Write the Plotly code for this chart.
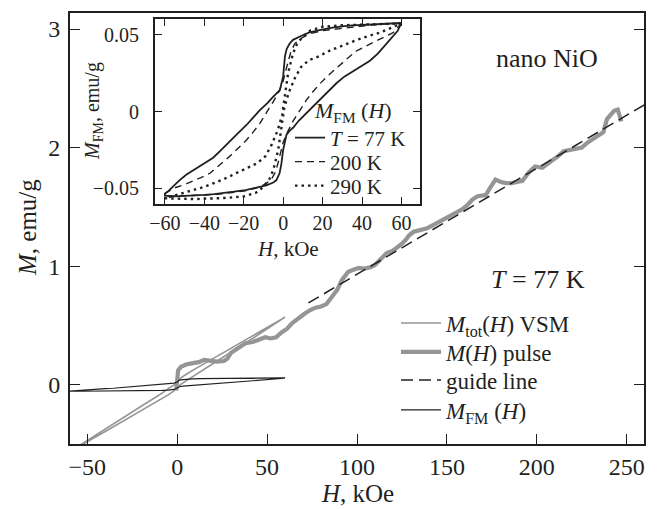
import plotly.graph_objects as go

# ---------------- data ----------------
# Inset: M_FM(H) loops (kOe, emu/g) — descending branch then ascending branch
H77 = [60, 50, 40, 35, 30, 25, 19, 13, 8.5, 5, 3.4, 1.8, 0.9, 0, -1.7, -3.2, -5, -8, -11.8, -15, -18.6, -23, -27, -31, -35.5, -40, -45.7, -49, -52.5, -55.8, -58, -60,
       -60, -55, -50, -45, -40, -35, -30, -25, -19, -13, -8.5, -5, -3.4, -1.8, -0.9, 0, 1.7, 3.2, 5, 8, 11.8, 15, 18.6, 23, 27, 31, 35.5, 40, 44, 48, 52.5, 55.8, 58, 60]
M77 = [0.0578, 0.0574, 0.0567, 0.0563, 0.0556, 0.0548, 0.0533, 0.0515, 0.049, 0.0468, 0.0446, 0.041, 0.036, 0.023, 0.014, 0.0118, 0.0098, 0.0055, 0.001, -0.0035, -0.0087, -0.0142, -0.0196, -0.0245, -0.030, -0.0335, -0.038, -0.041, -0.0446, -0.049, -0.0515, -0.0535,
       -0.0548, -0.0552, -0.0550, -0.0546, -0.0542, -0.0537, -0.0531, -0.0522, -0.0511, -0.0495, -0.048, -0.0462, -0.0446, -0.040, -0.034, -0.025, -0.015, -0.0125, -0.0105, -0.0058, -0.001, 0.003, 0.0078, 0.0132, 0.0185, 0.0228, 0.0265, 0.030, 0.0332, 0.0378, 0.0446, 0.049, 0.0525, 0.0578]

H200 = [60, 50, 40, 30, 20, 14, 9.3, 6, 4.2, 2.8, 1.7, 0, -2, -3.4, -5, -7, -9, -11.8, -15, -18.6, -23, -27, -32, -37, -42, -46.5, -51, -55.8, -60,
        -60, -50, -40, -30, -20, -14, -9.3, -6, -4.2, -2.8, -1.7, 0, 2, 3.4, 5, 7, 9, 11.8, 15, 18.6, 23, 27, 32, 37, 42, 46.5, 51, 55.8, 60]
M200 = [0.0576, 0.0570, 0.0558, 0.0545, 0.0528, 0.0510, 0.048, 0.0445, 0.040, 0.034, 0.029, 0.020, 0.0135, 0.0098, 0.0065, 0.0025, -0.0015, -0.0076, -0.0130, -0.0185, -0.0240, -0.029, -0.0345, -0.040, -0.0432, -0.0457, -0.048, -0.050, -0.0535,
        -0.0552, -0.0550, -0.0544, -0.0534, -0.0518, -0.0500, -0.0475, -0.0442, -0.040, -0.0345, -0.029, -0.020, -0.0138, -0.0098, -0.0062, -0.0022, 0.0018, 0.0076, 0.0128, 0.0182, 0.0238, 0.0285, 0.034, 0.0395, 0.043, 0.0457, 0.0485, 0.0515, 0.0576]

H290 = [60, 45, 30, 20, 14, 10, 7, 5, 3.5, 2.5, 1.5, 0.5, -0.5, -2, -3.5, -6, -9, -13, -18, -24, -31, -40, -49, -56, -60,
        -60, -45, -30, -20, -14, -10, -7, -5, -3.5, -2.5, -1.5, -0.5, 0.5, 2, 3.5, 6, 9, 13, 18, 24, 31, 40, 49, 56, 60]
M290 = [0.0575, 0.0570, 0.0563, 0.0553, 0.053, 0.049, 0.044, 0.038, 0.031, 0.025, 0.016, 0.006, -0.002, -0.009, -0.0145, -0.022, -0.029, -0.0335, -0.0365, -0.0405, -0.0445, -0.049, -0.0525, -0.0552, -0.0565,
        -0.0565, -0.0570, -0.0563, -0.0553, -0.053, -0.049, -0.044, -0.038, -0.031, -0.025, -0.016, -0.006, 0.002, 0.009, 0.0145, 0.022, 0.029, 0.0335, 0.036, 0.040, 0.0435, 0.048, 0.0515, 0.055, 0.0575]

# Main: M_tot(H) VSM loop
H_vsm = [60, 40, 20, 10, 5, 2, 0, -2, -5, -10, -20, -40, -60,
         -60, -40, -20, -10, -5, -2, 0, 2, 5, 10, 20, 40, 60]
M_vsm = [0.570, 0.398, 0.224, 0.134, 0.088, 0.055, 0.023, -0.005, -0.033, -0.087, -0.182, -0.376, -0.565,
         -0.567, -0.395, -0.222, -0.133, -0.086, -0.055, -0.028, 0.003, 0.032, 0.082, 0.179, 0.371, 0.570]

# Main: M(H) pulse
H_pulse = [-0.5, 0, 0.5, 2, 5, 8, 12, 15, 18, 22, 26, 28, 30, 34, 38, 42, 46, 49, 52, 55, 58, 61, 64, 68, 71, 74, 77, 80, 83,
           86, 89, 91.5, 95, 98, 101, 104, 107.5, 110, 112, 114, 116.5, 120, 123, 125, 127, 129, 131.5, 134, 137, 139, 141.5,
           144, 147, 150, 152.6, 155, 158, 161, 164, 167, 171.6, 174, 177, 180, 183, 186, 189, 192, 195.5, 199, 203, 206, 209,
           212, 215, 219, 222, 225, 228, 231, 234, 237, 239, 241, 243, 245, 246, 247]
M_pulse = [-0.05, 0.04, 0.12, 0.15, 0.17, 0.18, 0.19, 0.21, 0.20, 0.195, 0.20, 0.22, 0.27, 0.31, 0.35, 0.36, 0.38, 0.40, 0.39, 0.40, 0.44, 0.47, 0.52, 0.57, 0.60, 0.63, 0.65, 0.66, 0.68,
           0.74, 0.80, 0.88, 0.95, 0.97, 0.985, 0.98, 0.99, 1.01, 1.04, 1.08, 1.11, 1.13, 1.16, 1.19, 1.22, 1.26, 1.29, 1.30, 1.31, 1.32, 1.34,
           1.36, 1.39, 1.41, 1.43, 1.45, 1.475, 1.51, 1.56, 1.59, 1.60, 1.66, 1.73, 1.71, 1.70, 1.70, 1.71, 1.72, 1.79, 1.84, 1.83, 1.86, 1.89,
           1.93, 1.97, 1.98, 1.99, 2.00, 2.04, 2.07, 2.10, 2.13, 2.24, 2.28, 2.31, 2.32, 2.27, 2.22]

# Main: guide line end points
H_guide = [73, 262]
M_guide = [0.69, 2.38]

main_xticks = [-50, 0, 50, 100, 150, 200, 250]
main_yticks = [0, 1, 2, 3]
inset_xticks = [-60, -40, -20, 0, 20, 40, 60]
inset_yticks = [-0.05, 0, 0.05]
inset_yticktext = ["\u22120.05", "0", "0.05"]

# ---------------- figure ----------------
FONT = "Liberation Serif"
INK = "#231f20"
GREY = "#959595"

# the page body has an 8 px margin; the figure is sized/placed so that the
# plot lands where the reference has it
OFF = 8
W, HGT = 661 - OFF, 509 - OFF
pw, ph = 574, 431
L, T = 70 - OFF, 13 - OFF
R, B = W - L - pw, HGT - T - ph


def px(p):  # reference pixel -> paper x
    return (p - 70) / pw


def py(p):  # reference pixel -> paper y
    return (444 - p) / ph


fig = go.Figure()

# main plot traces (each legend entry in its own legend box so rows sit exactly)
fig.add_trace(go.Scatter(x=H_vsm, y=M_vsm, mode="lines", line=dict(color=GREY, width=1.6),
                         name="<i>M</i><sub>tot</sub>(<i>H</i>) VSM", legend="legend2"))
fig.add_trace(go.Scatter(x=H_pulse, y=M_pulse, mode="lines", line=dict(color=GREY, width=4.2),
                         name="<i>M</i>(<i>H</i>) pulse", legend="legend3"))
fig.add_trace(go.Scatter(x=H_guide, y=M_guide, mode="lines", line=dict(color=INK, width=1.5, dash="12px,6px"),
                         name="guide line", legend="legend4"))
fig.add_trace(go.Scatter(x=H77, y=M77, mode="lines", line=dict(color=INK, width=1.2),
                         name="<i>M</i><sub>FM</sub> (<i>H</i>)", legend="legend5"))

# inset traces
fig.add_trace(go.Scatter(x=H77, y=M77, mode="lines", line=dict(color=INK, width=1.8),
                         name="<i>T</i> = 77 K", xaxis="x2", yaxis="y2", legend="legend6"))
fig.add_trace(go.Scatter(x=H200, y=M200, mode="lines", line=dict(color=INK, width=1.4, dash="7px,5px"),
                         name="200 K", xaxis="x2", yaxis="y2", legend="legend7"))
fig.add_trace(go.Scatter(x=H290, y=M290, mode="lines", line=dict(color=INK, width=2.4, dash="2.5px,4px"),
                         name="290 K", xaxis="x2", yaxis="y2", legend="legend8"))

axis_common = dict(showgrid=False, zeroline=False, showline=True, linecolor=INK,
                   ticks="inside", tickcolor=INK)


def leg(xp, yp, size, iw):
    return dict(x=px(xp), y=py(yp), xanchor="left", yanchor="middle", bgcolor="rgba(0,0,0,0)",
                font=dict(size=size, family=FONT, color=INK), itemwidth=iw, borderwidth=0)


main_rows = [323, 352, 380, 410]
inset_rows = [138, 162, 186]

legends = {}
for i, r in enumerate(main_rows):
    legends[f"legend{i + 2}"] = leg(396, r, 23, 40)
for j, r in enumerate(inset_rows):
    legends[f"legend{j + 6}"] = leg(290, r, 21, 30)

fig.update_layout(
    width=W, height=HGT,
    margin=dict(l=L, r=R, t=T, b=B, autoexpand=False),
    paper_bgcolor="white", plot_bgcolor="white",
    showlegend=True,
    font=dict(family=FONT, color=INK, size=24),
    xaxis=dict(axis_common, range=[-59.6, 259.6], tickvals=main_xticks, ticklen=10, tickwidth=1.3,
               linewidth=2, mirror=True, tickfont=dict(size=24), domain=[0, 1], ticklabelstandoff=0),
    yaxis=dict(axis_common, range=[-0.5, 3.135], tickvals=main_yticks, ticklen=10, tickwidth=1.3,
               linewidth=2, mirror="ticks", tickfont=dict(size=24), domain=[0, 1], ticklabelstandoff=3),
    xaxis2=dict(axis_common, range=[-65, 69.4], tickvals=inset_xticks, ticklen=7, tickwidth=1.2,
                linewidth=1.8, mirror="ticks", anchor="y2", domain=[px(155), px(420)],
                tickfont=dict(size=20), ticklabelstandoff=0),
    yaxis2=dict(axis_common, range=[-0.0602, 0.0602], tickvals=inset_yticks, ticktext=inset_yticktext,
                ticklen=7, tickwidth=1.2, linewidth=1.8, mirror="ticks", anchor="x2",
                domain=[py(204), py(19.3)], tickfont=dict(size=20), ticklabelstandoff=10),
    annotations=[
        dict(text="<i>H</i>, kOe", x=px(357), y=py(494), xref="paper", yref="paper",
             xanchor="center", yanchor="middle", showarrow=False, font=dict(size=25)),
        dict(text="<i>M</i>, emu/g", x=px(27), y=py(228), xref="paper", yref="paper",
             xanchor="center", yanchor="middle", showarrow=False, textangle=-90, font=dict(size=25)),
        dict(text="<i>H</i>, kOe", x=px(288), y=py(249), xref="paper", yref="paper",
             xanchor="center", yanchor="middle", showarrow=False, font=dict(size=21)),
        dict(text="<i>M</i><sub>FM</sub>, emu/g", x=px(93), y=py(111), xref="paper", yref="paper",
             xanchor="center", yanchor="middle", showarrow=False, textangle=-90, font=dict(size=20)),
        dict(text="<i>M</i><sub>FM</sub> (<i>H</i>)", x=px(312), y=py(112), xref="paper", yref="paper",
             xanchor="left", yanchor="middle", showarrow=False, font=dict(size=22)),
        dict(text="nano NiO", x=px(547), y=py(58), xref="paper", yref="paper",
             xanchor="center", yanchor="middle", showarrow=False, font=dict(size=26)),
        dict(text="<i>T</i> = 77 K", x=px(538), y=py(279), xref="paper", yref="paper",
             xanchor="center", yanchor="middle", showarrow=False, font=dict(size=26)),
    ],
    **legends,
)

fig.write_html("out.html")
